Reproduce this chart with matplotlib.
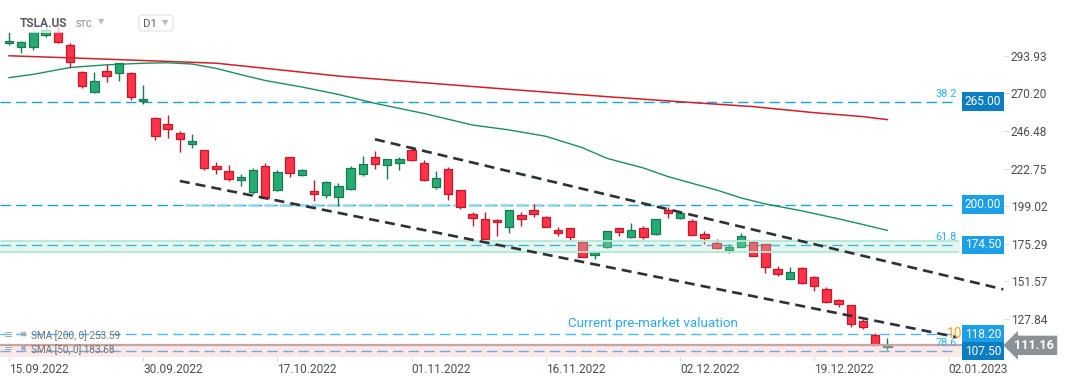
import numpy as np
import matplotlib
matplotlib.use("Agg")
import matplotlib.pyplot as plt
from matplotlib.transforms import blended_transform_factory
from matplotlib.patches import FancyBboxPatch, Rectangle

plt.rcParams["font.family"] = ["Roboto", "DejaVu Sans"]

# ── data (TSLA.US, D1) ────────────────────────────────────────────────────
dates = ["15.09", "16.09", "19.09", "20.09", "21.09", "22.09", "23.09", "26.09", "27.09", "28.09",
         "29.09", "30.09", "03.10", "04.10", "05.10", "06.10", "07.10", "10.10", "11.10", "12.10",
         "13.10", "14.10", "17.10", "18.10", "19.10", "20.10", "21.10", "24.10", "25.10", "26.10",
         "27.10", "28.10", "31.10", "01.11", "02.11", "03.11", "04.11", "07.11", "08.11", "09.11",
         "10.11", "11.11", "14.11", "15.11", "16.11", "17.11", "18.11", "21.11", "22.11", "23.11",
         "25.11", "28.11", "29.11", "30.11", "01.12", "02.12", "05.12", "06.12", "07.12", "08.12",
         "09.12", "12.12", "13.12", "14.12", "15.12", "16.12", "19.12", "20.12", "21.12", "22.12",
         "23.12", "27.12", "28.12"]
opens = [301.8, 299.4, 299.6, 306.9, 308.7, 300.7, 283.5, 271.3, 284.1, 282.8,
         282.8, 265.4, 254.4, 250.8, 245.0, 238.4, 234.3, 224.3, 221.2, 215.3,
         207.8, 224.2, 209.0, 229.8, 218.5, 208.6, 205.9, 205.0, 209.6, 219.1,
         229.8, 224.8, 226.1, 234.4, 226.0, 210.9, 222.2, 209.0, 193.9, 190.7,
         190.3, 185.7, 193.4, 196.6, 192.0, 184.0, 185.0, 176.2, 168.1, 173.1,
         185.0, 179.4, 185.0, 181.6, 196.6, 191.4, 189.4, 181.4, 175.5, 171.5,
         173.4, 176.4, 175.1, 159.3, 152.9, 159.8, 154.1, 146.6, 139.6, 136.5,
         126.4, 117.5, 110.4]
highs = [308.9, 303.4, 309.8, 313.3, 313.8, 301.8, 284.3, 283.5, 288.6, 289.2,
         283.7, 275.5, 255.2, 256.5, 246.7, 244.5, 234.6, 227.1, 225.0, 219.3,
         222.9, 226.2, 221.8, 230.0, 222.6, 215.5, 214.7, 213.4, 224.4, 230.6,
         233.8, 228.9, 229.9, 237.0, 227.9, 221.1, 223.8, 209.0, 195.3, 195.5,
         191.1, 196.6, 195.3, 200.4, 192.6, 185.7, 185.2, 176.8, 170.1, 183.6,
         185.2, 188.6, 186.7, 191.0, 198.3, 195.0, 190.7, 183.2, 178.4, 175.1,
         182.1, 177.4, 175.1, 161.3, 160.4, 160.9, 155.2, 147.8, 140.4, 136.6,
         127.6, 119.2, 115.6]
lows = [300.9, 295.7, 297.6, 305.6, 302.0, 286.0, 273.4, 270.6, 277.6, 278.0,
        266.0, 263.2, 240.8, 242.2, 233.4, 235.9, 221.8, 219.1, 215.1, 211.9,
        206.4, 204.2, 208.5, 217.6, 217.8, 202.5, 204.4, 199.1, 209.0, 218.2,
        222.7, 216.3, 221.8, 227.3, 214.8, 210.1, 202.9, 197.0, 186.7, 177.7,
        180.4, 182.3, 186.7, 192.4, 185.7, 180.4, 177.0, 167.0, 165.9, 172.5,
        180.4, 179.0, 178.3, 180.6, 191.7, 191.1, 180.5, 175.1, 172.2, 169.3,
        173.2, 167.4, 157.0, 155.0, 152.8, 150.0, 145.7, 137.6, 135.6, 122.6,
        121.3, 111.2, 108.5]
closes = [303.4, 302.5, 309.0, 310.0, 302.4, 289.8, 275.0, 277.8, 281.3, 289.1,
          268.1, 266.6, 243.5, 247.5, 241.6, 240.1, 222.9, 222.6, 216.0, 217.2,
          221.6, 204.4, 220.6, 219.7, 221.5, 206.5, 214.0, 211.5, 222.9, 225.3,
          225.4, 228.6, 228.8, 227.9, 215.8, 216.6, 206.5, 198.3, 191.4, 178.5,
          188.8, 196.6, 190.7, 193.9, 186.1, 181.9, 179.8, 167.1, 169.9, 183.2,
          182.5, 183.8, 179.8, 190.7, 194.5, 194.5, 180.6, 179.1, 172.6, 173.5,
          180.0, 167.4, 160.8, 156.0, 157.2, 150.3, 148.8, 138.5, 137.1, 124.7,
          122.8, 111.3, 110.6]

# moving averages, read at selected bars
sma200_idx = [0, 5, 10, 17, 21, 27, 41, 49, 55, 61, 66, 70, 72]
sma200_val = [293.9, 292.6, 291.2, 289.2, 286.0, 281.1, 272.7, 268.1, 264.9, 261.8, 258.0, 255.5, 253.6]
sma50_idx = [0, 2, 5, 8, 11, 13, 15, 17, 19, 21, 24, 27, 30, 34, 38, 41, 44, 47, 49, 52,
             54, 56, 58, 60, 62, 65, 68, 70, 72]
sma50_val = [280.1, 282.2, 286.5, 288.2, 289.2, 289.5, 288.7, 285.9, 282.0, 278.3, 274.2, 269.5,
             263.9, 257.5, 250.2, 247.1, 243.1, 235.9, 229.2, 223.1, 217.7, 213.4, 209.2, 204.2,
             200.4, 196.0, 191.0, 187.4, 183.7]

# channel lines (bar index, price)
upper_line = [(30, 241.2), (81.5, 146.5)]
lower_line = [(14, 214.9), (77.7, 116.3)]

levels = [265.0, 200.0, 174.5, 118.2, 107.5]
level_tags = ["265.00", "200.00", "174.50", "118.20", "107.50"]
zone = (170.3, 176.9)
last_price = 111.16

xtick_idx = [0, 11, 22, 33, 44, 55, 66, 77]
xtick_lbl = ["15.09.2022", "30.09.2022", "17.10.2022", "01.11.2022", "16.11.2022",
             "02.12.2022", "19.12.2022", "02.01.2023"]
ytick_vals = [127.84, 151.57, 175.29, 199.02, 222.75, 246.48, 270.20, 293.93]

# ── figure ─────────────────────────────────────────────────────────────────
W, H = 1072, 382
AX_R, AX_B = 1004, 357
fig = plt.figure(figsize=(W / 100, H / 100), dpi=100)
ax = fig.add_axes([0, 1 - AX_B / H, AX_R / W, AX_B / H])
ax.set_xlim(-0.738, 81.56)
ax.set_ylim(103.8, 329.1)
for s in ax.spines.values():
    s.set_visible(False)

bt = blended_transform_factory(ax.transAxes, ax.transData)
def axx(px):
    return px / AX_R

GREEN, GREEN_E = "#26ab73", "#177a50"
RED, RED_E = "#ff3347", "#c21a2c"
BLUE = "#17a2e9"

# horizontal levels
xend = 77.7
for lv in levels:
    ax.hlines(lv, -0.74, xend, color=BLUE if lv != 118.2 else "#4bb9f0",
              lw=1.0, linestyles=(0, (7.5, 3.8)), zorder=2)
ax.hlines(200.0, 14.4, 48.0, color="#8fd6fa", lw=1.8, linestyles=(0, (4.2, 2.1)), zorder=2)

# candles
idx = np.arange(len(opens))
o, h, l, c = map(np.asarray, (opens, highs, lows, closes))
up = c >= o
fill = np.where(up, GREEN, RED)
edge = np.where(up, GREEN_E, RED_E)
ax.vlines(idx, l, h, colors=edge, lw=1.0, zorder=3)
ax.bar(idx, np.maximum(np.abs(c - o), 0.6), bottom=np.minimum(o, c), width=0.68,
       color=fill, edgecolor=edge, lw=0.9, zorder=4)

# SMAs
ax.plot(sma200_idx, sma200_val, color="#d2202a", lw=1.1, zorder=5)
ax.plot(sma50_idx, sma50_val, color="#1c8f5f", lw=1.0, zorder=5)

# support zone (drawn over the candles, translucent)
ax.axhspan(zone[0], zone[1], xmin=0, xmax=axx(960), color="#a8e3cb", alpha=0.3, lw=0, zorder=6)
for z in zone:
    ax.hlines(z, -0.74, 77.9, color="#b3e8d2", lw=1.3, zorder=6)

# channel
for seg in (upper_line, lower_line):
    xs, ys = zip(*seg)
    ax.plot(xs, ys, color="#2d3237", lw=1.9, dashes=(3.8, 2.3), zorder=7)

# current price line + pink area
ax.axhspan(103.8, last_price, color="#f8c4c4", alpha=0.38, lw=0, zorder=8)
ax.axhline(last_price, color="#c4a4a4", lw=1.6, zorder=8)

# header overlay
fig.patches.append(Rectangle((0, 1 - 33 / H), 182 / W, 33 / H, transform=fig.transFigure,
                             facecolor="white", alpha=0.72, lw=0, zorder=9))

# axis ticks
ax.yaxis.tick_right()
ax.set_yticks(ytick_vals)
ax.set_yticklabels([f"{v:.2f}" for v in ytick_vals])
ax.tick_params(axis="y", length=3.5, width=0.8, color="#d9dcdf", pad=1.5,
               labelsize=8.6, labelcolor="#4a4f54")
ax.set_xticks(xtick_idx)
ax.set_xticklabels(xtick_lbl, ha="left")
ax.tick_params(axis="x", length=3, width=0.8, color="#d9dcdf", pad=1.5,
               labelsize=8.6, labelcolor="#4a4f54")

# level tags on the right edge
tag_colors = ["#0b7dc2", "#1a9fe8", "#1a9fe8", "#1a9fe8", "#0b7dc2"]
# fib texts
fib = [("38.2", 265.0), ("61.8", 174.5), ("78.6", 107.5)]
for t, lv in fib:
    ax.annotate(t, xy=(axx(957), lv), xycoords=bt, xytext=(0, 2), textcoords="offset points",
                ha="right", va="bottom", fontsize=7.8, color="#2cb1f3", zorder=10)
ax.text(axx(947), 118.0, "100", transform=bt, ha="left", va="center", fontsize=10,
        color="#f5a623", zorder=10)
for lv, tg, col in zip(levels, level_tags, tag_colors):
    ax.text(axx(983), lv, tg, transform=bt, ha="center", va="center", fontsize=8.6,
            color="white", zorder=12, clip_on=False,
            bbox=dict(boxstyle="square,pad=0.22", fc=col, ec="none"))
ax.text(axx(1034), last_price, "111.16", transform=bt, ha="center", va="center",
        fontsize=9.2, fontweight="bold", color="white", zorder=13, clip_on=False,
        bbox=dict(boxstyle="larrow,pad=0.25", fc="#8b9296", ec="none"))

ax.text(axx(568), 124.7, "Current pre-market valuation", transform=bt, ha="left",
        va="center", fontsize=9.6, color="#2aa9ef", zorder=10)

# header texts
def fx(x):
    return x / W
def fy(y):
    return 1 - y / H

fig.text(fx(20), fy(23.5), "TSLA.US", fontsize=8.6, fontweight="bold", color="#585e64",
         va="center", zorder=20)
fig.text(fx(76), fy(24.5), "STC", fontsize=6.3, fontweight="bold", color="#9ba2a8",
         va="center", zorder=20)
fig.text(fx(101), fy(22), "▼", fontsize=6, color="#b9bdc1", ha="center", va="center",
         family="DejaVu Sans", zorder=20)
fig.patches.append(FancyBboxPatch((fx(139), fy(31)), 34 / W, 16 / H,
                                  boxstyle="round,pad=0,rounding_size=0.004",
                                  transform=fig.transFigure, fc="white", ec="#e2e4e6",
                                  lw=0.9, zorder=19))
fig.text(fx(143), fy(24), "D1", fontsize=8.2, color="#585e64", va="center", zorder=20)
fig.text(fx(165), fy(23), "▼", fontsize=6, color="#b9bdc1", ha="center", va="center",
         family="DejaVu Sans", zorder=20)

# indicator legend
legend = [("SMA [200, 0] 253.59", 336), ("SMA [50, 0] 183.68", 349.5)]
for txt, yy in legend:
    fig.text(fx(9), fy(yy - 1), "≡", fontsize=8, color="#a3a7ab", ha="center", va="center",
             family="DejaVu Sans", zorder=20)
    fig.text(fx(23), fy(yy - 1), "✖", fontsize=6, color="#a3a7ab", ha="center", va="center",
             family="DejaVu Sans", zorder=20)
    fig.text(fx(31), fy(yy), txt, fontsize=7.2, color="#6d7277", va="center", zorder=20)

fig.savefig("out.png", dpi=100)
